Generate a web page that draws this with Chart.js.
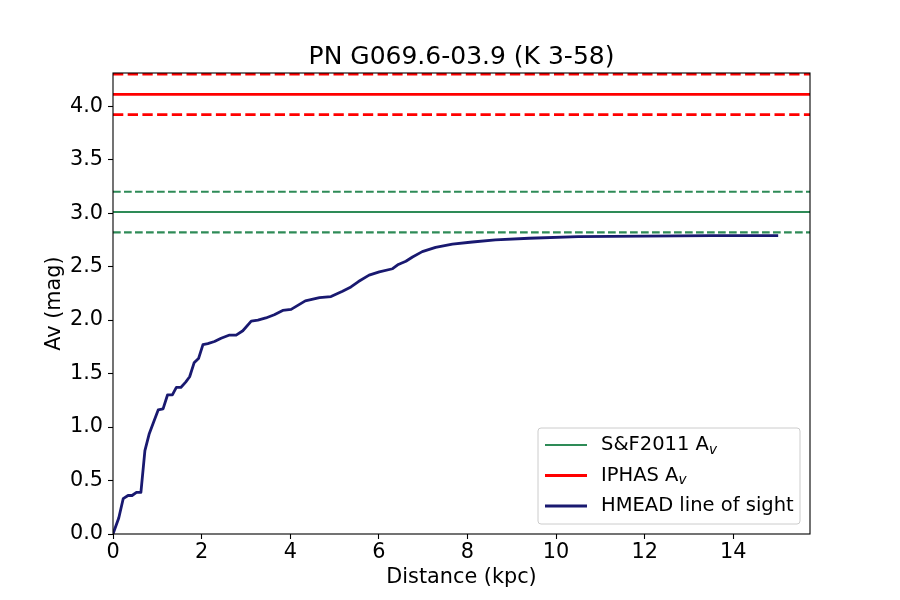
<!DOCTYPE html>
<html>
<head>
<meta charset="utf-8">
<script src="https://cdn.jsdelivr.net/npm/chart.js@4.4.0/dist/chart.umd.min.js"></script>
<style>
  body { margin: 0; background: #fff; }
  canvas { display: block; }
</style>
</head>
<body>
<canvas id="myChart" width="900" height="600"></canvas>
<script>
var chartTitle = 'PN G069.6-03.9 (K 3-58)';

// HMEAD line of sight
var distance = [0.0, 0.13, 0.23, 0.34, 0.43, 0.53, 0.63, 0.72, 0.82, 0.93,
  1.02, 1.13, 1.23, 1.34, 1.43, 1.53, 1.64, 1.73, 1.83, 1.93,
  2.03, 2.14, 2.29, 2.44, 2.63, 2.78, 2.93, 3.12, 3.27, 3.45,
  3.64, 3.83, 4.02, 4.34, 4.66, 4.92, 5.18, 5.37, 5.54, 5.78,
  6.01, 6.31, 6.44, 6.61, 6.76, 6.98, 7.28, 7.66, 8.11, 8.63,
  9.39, 10.5, 12.0, 13.5, 14.98];
var avSight = [0.0, 0.15, 0.33, 0.36, 0.36, 0.39, 0.39, 0.78, 0.94, 1.06,
  1.16, 1.17, 1.30, 1.30, 1.37, 1.37, 1.42, 1.47, 1.60, 1.64,
  1.77, 1.78, 1.80, 1.83, 1.86, 1.86, 1.90, 1.99, 2.00, 2.02,
  2.05, 2.09, 2.10, 2.18, 2.21, 2.22, 2.27, 2.31, 2.36, 2.42,
  2.45, 2.48, 2.52, 2.55, 2.59, 2.64, 2.68, 2.71, 2.73, 2.75,
  2.765, 2.78, 2.785, 2.79, 2.79];

// constant extinctions with their errors
var sfAv = 3.01, sfErr = 0.19;
var iphasAv = 4.11, iphasErr = 0.19;

var xTicks = [0, 2, 4, 6, 8, 10, 12, 14];
var yTicks = [0, 0.5, 1.0, 1.5, 2.0, 2.5, 3.0, 3.5, 4.0];
var xMax = 15.73, yMax = 4.31;

var GREEN = '#2e8b57', RED = '#ff0000', BLUE = '#191970';
var FONT = "'DejaVu Sans', sans-serif";

function hline(v) {
  return [{x: 0, y: v}, {x: xMax, y: v}];
}

var sightData = distance.map(function (d, i) { return {x: d, y: avSight[i]}; });

Chart.defaults.font.family = FONT;
Chart.defaults.color = '#000';

// title, full box spines and matplotlib-like legend
var mplDecor = {
  id: 'mplDecor',
  afterDatasetsDraw: function (chart) {
    var ctx = chart.ctx, a = chart.chartArea;
    ctx.save();
    ctx.strokeStyle = '#000';
    ctx.lineWidth = 1.1;
    ctx.strokeRect(a.left, a.top, a.right - a.left, a.bottom - a.top);
    ctx.restore();
  },
  afterDraw: function (chart) {
    var ctx = chart.ctx, a = chart.chartArea;
    ctx.save();
    ctx.fillStyle = '#000';
    ctx.font = '25px ' + FONT;
    ctx.textAlign = 'center';
    ctx.textBaseline = 'alphabetic';
    ctx.fillText(chartTitle, (a.left + a.right) / 2, 63.5);

    var items = [
      {text: 'S&F2011 A', sub: 'v', color: GREEN, width: 2.1},
      {text: 'IPHAS A', sub: 'v', color: RED, width: 2.8},
      {text: 'HMEAD line of sight', sub: '', color: BLUE, width: 2.8}
    ];
    var bx = a.right - 272, by = a.bottom - 106, bw = 262, bh = 96;
    ctx.beginPath();
    ctx.roundRect(bx, by, bw, bh, 3);
    ctx.fillStyle = 'rgba(255,255,255,0.8)';
    ctx.fill();
    ctx.strokeStyle = '#cccccc';
    ctx.lineWidth = 1;
    ctx.stroke();
    items.forEach(function (it, i) {
      var y = by + 17 + i * 30.5;
      ctx.beginPath();
      ctx.moveTo(bx + 7, y);
      ctx.lineTo(bx + 49, y);
      ctx.strokeStyle = it.color;
      ctx.lineWidth = it.width;
      ctx.stroke();
      ctx.fillStyle = '#000';
      ctx.textAlign = 'left';
      ctx.textBaseline = 'middle';
      ctx.font = '19.5px ' + FONT;
      ctx.fillText(it.text, bx + 63, y);
      if (it.sub) {
        var w = ctx.measureText(it.text).width;
        ctx.font = 'italic 13.6px ' + FONT;
        ctx.fillText(it.sub, bx + 63 + w, y + 5);
      }
    });
    ctx.restore();
  }
};

var ctx = document.getElementById('myChart');
var myChart = new Chart(ctx, {
  type: 'line',
  data: {
    datasets: [{
      label: 'S&F2011 Av',
      data: hline(sfAv),
      borderColor: GREEN, borderWidth: 2.1
    }, {
      data: hline(sfAv - sfErr),
      borderColor: GREEN, borderWidth: 2.1, borderDash: [7.7, 3.3]
    }, {
      data: hline(sfAv + sfErr),
      borderColor: GREEN, borderWidth: 2.1, borderDash: [7.7, 3.3]
    }, {
      label: 'IPHAS Av',
      data: hline(iphasAv),
      borderColor: RED, borderWidth: 2.8
    }, {
      data: hline(iphasAv - iphasErr),
      borderColor: RED, borderWidth: 2.8, borderDash: [10.3, 4.4]
    }, {
      data: hline(iphasAv + iphasErr),
      borderColor: RED, borderWidth: 2.8, borderDash: [10.3, 4.4]
    }, {
      label: 'HMEAD line of sight',
      data: sightData,
      borderColor: BLUE, borderWidth: 2.8,
      borderCapStyle: 'square', borderJoinStyle: 'round'
    }]
  },
  options: {
    responsive: false,
    animation: false,
    devicePixelRatio: 1,
    layout: { padding: { left: 0, top: 73, right: 90, bottom: 0 } },
    elements: {
      point: { radius: 0 },
      line: { tension: 0, fill: false }
    },
    scales: {
      x: {
        type: 'linear',
        min: 0, max: xMax,
        afterFit: function (s) { s.height = 66; },
        afterBuildTicks: function (s) { s.ticks = xTicks.map(function (v) { return {value: v}; }); },
        ticks: { font: { size: 20.8 }, color: '#000', padding: 1.5, maxRotation: 0,
          callback: function (v) { return String(v); } },
        grid: { drawOnChartArea: false, drawTicks: true, tickLength: 5, tickColor: '#000', tickWidth: 1.1 },
        border: { display: false },
        title: { display: true, text: 'Distance (kpc)', font: { size: 20.8 }, color: '#000',
          padding: { top: 0, bottom: 9.7 } }
      },
      y: {
        type: 'linear',
        min: 0, max: yMax,
        afterFit: function (s) { s.width = 113; },
        afterBuildTicks: function (s) { s.ticks = yTicks.map(function (v) { return {value: v}; }); },
        ticks: { font: { size: 20.8 }, color: '#000', padding: 5,
          callback: function (v) { return v.toFixed(1); } },
        grid: { drawOnChartArea: false, drawTicks: true, tickLength: 5, tickColor: '#000', tickWidth: 1.1 },
        border: { display: false },
        title: { display: true, text: 'Av (mag)', font: { size: 20.8 }, color: '#000',
          padding: { top: 42, bottom: 0 } }
      }
    },
    plugins: {
      legend: { display: false },
      tooltip: { enabled: false },
      title: { display: false }
    }
  },
  plugins: [mplDecor]
});
</script>
</body>
</html>
